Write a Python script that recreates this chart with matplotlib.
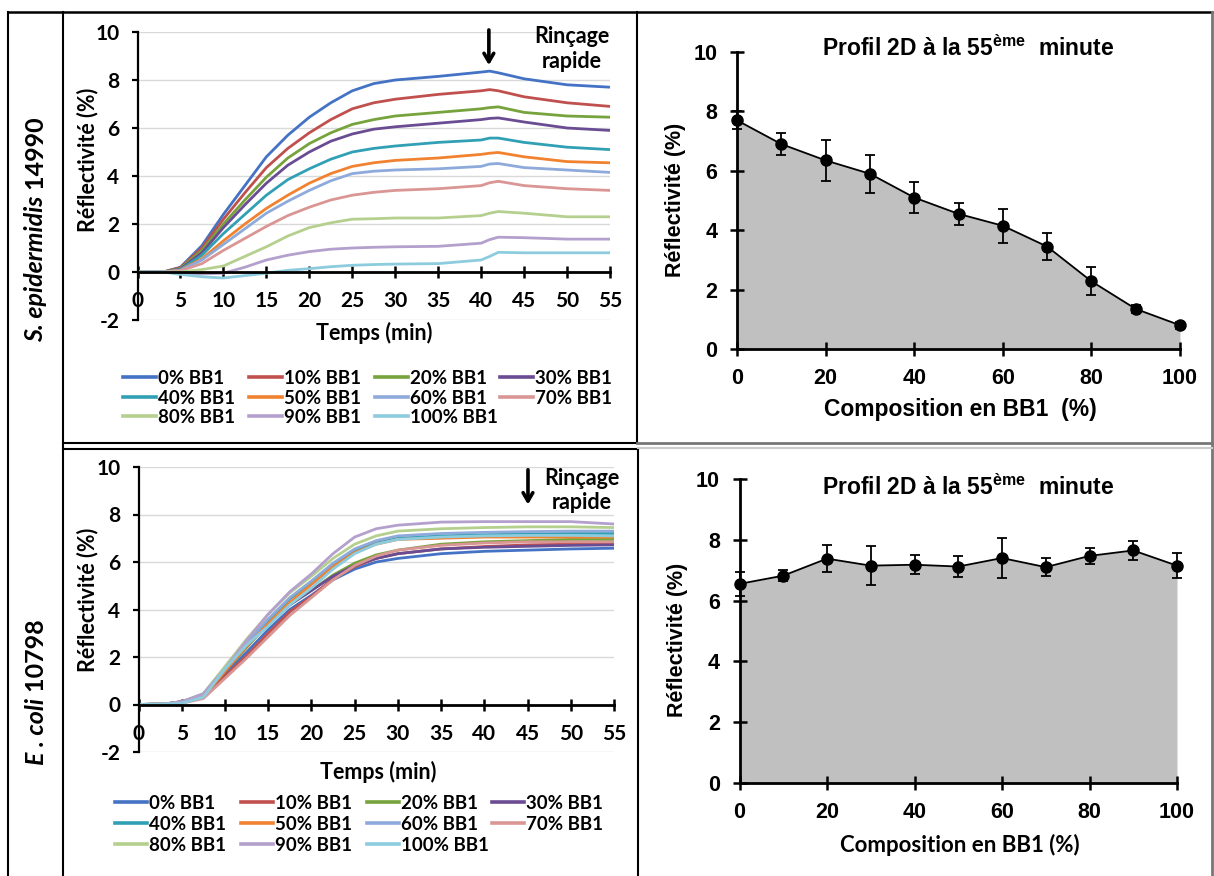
import matplotlib
matplotlib.use("Agg")
import matplotlib.pyplot as plt
from matplotlib.lines import Line2D

W, H = 1214, 876
plt.rcParams['mathtext.fontset'] = 'custom'
plt.rcParams['mathtext.rm'] = 'Liberation Sans:bold'
plt.rcParams['mathtext.bf'] = 'Liberation Sans:bold'
plt.rcParams['axes.unicode_minus'] = False

# ---------------- data ----------------
labels = ['0% BB1', '10% BB1', '20% BB1', '30% BB1', '40% BB1', '50% BB1',
          '60% BB1', '70% BB1', '80% BB1', '90% BB1', '100% BB1']
colors = ['#4472C4', '#C0504D', '#77A33C', '#6A4C93', '#31A0B4', '#F08230',
          '#8EAADB', '#D99694', '#B5D08E', '#B4A0CC', '#8DCCDE']

# S. epidermidis kinetics
t_se = [0, 3, 5, 7.5, 10, 12.5, 15, 17.5, 20, 22.5, 25, 27.5, 30, 35, 40, 41, 42, 45, 50, 55]
se_0 = [0, 0, 0.2, 1.1, 2.4, 3.6, 4.8, 5.7, 6.45, 7.05, 7.55, 7.85, 8.0, 8.15, 8.33, 8.37, 8.3, 8.05, 7.8, 7.7]
se_10 = [0, 0, 0.18, 1.0, 2.2, 3.3, 4.35, 5.15, 5.8, 6.35, 6.8, 7.05, 7.2, 7.4, 7.55, 7.6, 7.55, 7.3, 7.05, 6.9]
se_20 = [0, 0, 0.15, 0.9, 2.0, 3.0, 3.95, 4.75, 5.35, 5.8, 6.15, 6.35, 6.5, 6.65, 6.8, 6.85, 6.88, 6.65, 6.5, 6.45]
se_30 = [0, 0, 0.12, 0.8, 1.85, 2.8, 3.7, 4.45, 5.0, 5.45, 5.75, 5.95, 6.05, 6.2, 6.35, 6.4, 6.42, 6.25, 6.0, 5.9]
se_40 = [0, 0, 0.1, 0.7, 1.6, 2.4, 3.2, 3.85, 4.3, 4.7, 5.0, 5.15, 5.25, 5.4, 5.5, 5.58, 5.58, 5.4, 5.2, 5.1]
se_50 = [0, 0, 0.08, 0.55, 1.3, 2.0, 2.65, 3.2, 3.7, 4.1, 4.4, 4.55, 4.65, 4.75, 4.9, 4.95, 4.98, 4.8, 4.6, 4.55]
se_60 = [0, 0, 0.07, 0.5, 1.15, 1.8, 2.45, 2.95, 3.4, 3.8, 4.1, 4.2, 4.25, 4.3, 4.4, 4.5, 4.52, 4.35, 4.25, 4.15]
se_70 = [0, 0, 0.05, 0.35, 0.9, 1.4, 1.9, 2.35, 2.7, 3.0, 3.2, 3.32, 3.4, 3.47, 3.6, 3.72, 3.78, 3.6, 3.47, 3.4]
se_80 = [0, 0, 0.0, 0.1, 0.25, 0.65, 1.05, 1.5, 1.85, 2.05, 2.2, 2.22, 2.25, 2.25, 2.35, 2.45, 2.52, 2.45, 2.3, 2.3]
se_90 = [0, 0, -0.05, -0.08, -0.05, 0.2, 0.5, 0.7, 0.85, 0.95, 1.0, 1.03, 1.05, 1.07, 1.2, 1.35, 1.45, 1.43, 1.37, 1.37]
se_100 = [0, 0, -0.1, -0.2, -0.25, -0.15, -0.05, 0.07, 0.14, 0.22, 0.28, 0.31, 0.33, 0.35, 0.5, 0.65, 0.82, 0.8, 0.8, 0.8]

# E. coli kinetics
t_ec = [0, 3, 5, 7.5, 10, 12.5, 15, 17.5, 20, 22.5, 25, 27.5, 30, 35, 40, 45, 50, 55]
ec_0 = [0, 0.02, 0.1, 0.35, 1.3, 2.2, 3.15, 4.0, 4.6, 5.25, 5.7, 6.0, 6.15, 6.35, 6.45, 6.5, 6.55, 6.58]
ec_10 = [0, 0.02, 0.12, 0.3, 1.2, 2.05, 3.0, 3.9, 4.55, 5.3, 5.8, 6.15, 6.35, 6.55, 6.65, 6.72, 6.75, 6.78]
ec_20 = [0, 0.02, 0.1, 0.35, 1.4, 2.4, 3.4, 4.2, 4.8, 5.45, 5.95, 6.3, 6.5, 6.75, 6.85, 6.9, 6.95, 6.95]
ec_30 = [0, 0.02, 0.12, 0.4, 1.45, 2.45, 3.4, 4.2, 4.8, 5.4, 5.85, 6.15, 6.35, 6.55, 6.62, 6.66, 6.7, 6.72]
ec_40 = [0, 0.02, 0.1, 0.45, 1.55, 2.6, 3.55, 4.45, 5.15, 5.85, 6.45, 6.8, 7.0, 7.1, 7.15, 7.18, 7.2, 7.2]
ec_50 = [0, 0.02, 0.1, 0.35, 1.4, 2.45, 3.4, 4.3, 5.05, 5.8, 6.4, 6.75, 6.95, 7.0, 7.05, 7.05, 7.05, 7.05]
ec_60 = [0, 0.02, 0.1, 0.4, 1.5, 2.6, 3.6, 4.5, 5.2, 5.95, 6.55, 6.9, 7.1, 7.2, 7.25, 7.28, 7.3, 7.3]
ec_70 = [0, 0.02, 0.05, 0.25, 1.1, 1.95, 2.85, 3.75, 4.5, 5.25, 5.85, 6.25, 6.5, 6.7, 6.8, 6.85, 6.85, 6.85]
ec_80 = [0, 0.02, 0.1, 0.45, 1.6, 2.75, 3.8, 4.7, 5.4, 6.15, 6.75, 7.1, 7.3, 7.4, 7.45, 7.48, 7.48, 7.45]
ec_90 = [0, 0.02, 0.12, 0.45, 1.5, 2.7, 3.8, 4.75, 5.5, 6.35, 7.05, 7.4, 7.55, 7.68, 7.7, 7.7, 7.7, 7.6]
ec_100 = [0, 0.02, 0.05, 0.3, 1.5, 2.5, 3.3, 4.2, 4.9, 5.7, 6.35, 6.75, 6.95, 7.05, 7.1, 7.12, 7.12, 7.1]

# 2D profiles at 55 min
composition = [0, 10, 20, 30, 40, 50, 60, 70, 80, 90, 100]
se_profile = [7.7, 6.9, 6.35, 5.9, 5.1, 4.55, 4.15, 3.45, 2.28, 1.35, 0.8]
se_err = [0.3, 0.38, 0.68, 0.64, 0.52, 0.38, 0.57, 0.47, 0.47, 0.14, 0.12]
ec_profile = [6.55, 6.82, 7.38, 7.15, 7.18, 7.12, 7.4, 7.1, 7.47, 7.65, 7.15]
ec_err = [0.4, 0.19, 0.45, 0.65, 0.32, 0.35, 0.65, 0.3, 0.25, 0.31, 0.42]

x_ticks_time = [0, 5, 10, 15, 20, 25, 30, 35, 40, 45, 50, 55]
y_ticks_time = [-2, 0, 2, 4, 6, 8, 10]
x_ticks_comp = [0, 20, 40, 60, 80, 100]
y_ticks_comp = [0, 2, 4, 6, 8, 10]

se_series = [se_0, se_10, se_20, se_30, se_40, se_50, se_60, se_70, se_80, se_90, se_100]
ec_series = [ec_0, ec_10, ec_20, ec_30, ec_40, ec_50, ec_60, ec_70, ec_80, ec_90, ec_100]

# ---------------- figure ----------------
fig = plt.figure(figsize=(W / 100, H / 100), dpi=100)
fig.patch.set_facecolor('white')


def px_axes(x0, x1, ytop, ybot):
    return fig.add_axes([x0 / W, 1 - ybot / H, (x1 - x0) / W, (ybot - ytop) / H])


def fline(x0, y0, x1, y1, color='black', lw=1.5):
    fig.add_artist(Line2D([x0 / W, x1 / W], [1 - y0 / H, 1 - y1 / H],
                          transform=fig.transFigure, color=color, lw=lw))


# frames
fline(8, 12, 1212, 12, lw=1.8)
fline(8, 12, 8, 876, lw=1.5)
fline(63, 12, 63, 876, lw=1.5)
fline(637, 12, 637, 443, lw=1.5)
fline(63, 443, 637, 443, lw=1.5)
fline(63, 449, 638, 449, lw=1.5)
fline(638, 449, 638, 876, lw=1.5)
fline(1212, 12, 1212, 876, color='#777777', lw=2)
fline(637, 443, 1212, 443, color='#777777', lw=2)
fline(638, 448, 1212, 448, color='#cccccc', lw=1.5)

LF = 'Lato'
AF = 'Liberation Sans'


def kinetics(ax, t, series, arrow_x, arrow_top, arrow_tip, txt_x, txt_y):
    for y, c in zip(series, colors):
        ax.plot(t, y, color=c, lw=2.0, clip_on=False, solid_capstyle='butt')
    ax.set_xlim(0, 55)
    ax.set_ylim(-2, 10)
    ax.set_yticks(y_ticks_time)
    ax.set_xticks(x_ticks_time)
    ax.grid(axis='y', color='#d9d9d9', lw=1.0)
    ax.set_axisbelow(True)
    for s in ['top', 'right']:
        ax.spines[s].set_visible(False)
    ax.spines['bottom'].set_position(('data', 0))
    ax.spines['bottom'].set_linewidth(2)
    ax.spines['left'].set_linewidth(1.6)
    ax.tick_params(axis='x', direction='inout', length=8, width=1.8, pad=10)
    ax.tick_params(axis='y', direction='out', length=4, width=1.6, pad=9)
    for lab in ax.get_xticklabels() + ax.get_yticklabels():
        lab.set_fontfamily(LF)
        lab.set_fontweight('bold')
        lab.set_fontsize(15)
    ax.annotate('', xy=(arrow_x, arrow_tip), xytext=(arrow_x, arrow_top),
                arrowprops=dict(arrowstyle='->,head_width=0.35,head_length=0.6', lw=2.6, color='black'),
                annotation_clip=False)
    ax.text(txt_x, txt_y, 'Rinçage\nrapide', ha='center', va='center', fontfamily=LF,
            fontweight='bold', fontsize=15.5, linespacing=1.2)


# top-left
ax1 = px_axes(137.5, 610, 32, 320)
kinetics(ax1, t_se, se_series, 40.9, 10.2, 8.5, 50.6, 9.3)
fig.text(374 / W, 1 - 333 / H, 'Temps (min)', ha='center', va='center', fontfamily=LF,
         fontweight='bold', fontsize=15.5)
fig.text(88 / W, 1 - 160 / H, 'Réflectivité (%)', ha='center', va='center', rotation=90,
         fontfamily=LF, fontweight='bold', fontsize=15.5)

# bottom-left
ax2 = px_axes(138.5, 614, 467, 752)
kinetics(ax2, t_ec, ec_series, 45.05, 10.0, 8.3, 51.3, 9.0)
fig.text(378 / W, 1 - 772 / H, 'Temps (min)', ha='center', va='center', fontfamily=LF,
         fontweight='bold', fontsize=15.5)
fig.text(88 / W, 1 - 600 / H, 'Réflectivité (%)', ha='center', va='center', rotation=90,
         fontfamily=LF, fontweight='bold', fontsize=15.5)


# legends: Excel-style grid, 4 equal-width columns, row-major order
def legend(x0, y0, colw, rowh, linelen):
    for i, (lab, c) in enumerate(zip(labels, colors)):
        r, k = divmod(i, 4)
        xs = x0 + k * colw
        ys = y0 + r * rowh
        fline(xs, ys, xs + linelen, ys, color=c, lw=2.6)
        fig.text((xs + linelen + 2) / W, 1 - ys / H, lab, ha='left', va='center_baseline',
                 fontfamily=LF, fontweight='bold', fontsize=13.5)


legend(123, 377, 125.8, 19.7, 33)
legend(115, 802, 125.8, 20.8, 32)

# row labels (italic species + plain strain number)
t1 = fig.text(36 / W, 1 - 342 / H, 'S. epidermidis', rotation=90, ha='center', va='bottom',
              fontfamily=LF, fontstyle='italic', fontweight='bold', fontsize=18)
fig.add_artist(matplotlib.text.Annotation(' 14990', xy=(0.5, 1), xycoords=t1, ha='center',
                                          va='bottom', rotation=90, fontfamily=LF,
                                          fontweight='bold', fontsize=18))
t2 = fig.text(36 / W, 1 - 765 / H, 'E . coli', rotation=90, ha='center', va='bottom',
              fontfamily=LF, fontstyle='italic', fontweight='bold', fontsize=18)
fig.add_artist(matplotlib.text.Annotation(' 10798', xy=(0.5, 1), xycoords=t2, ha='center',
                                          va='bottom', rotation=90, fontfamily=LF,
                                          fontweight='bold', fontsize=18))


def profile(ax, vals, errs, title_y_px, xlabel_font, xlabel_size, xlabel_y_px,
            ylabel_x_px, ylabel_y_px, xl_text):
    ax.fill_between(composition, vals, 0, color='#c0c0c0', lw=0)
    ax.errorbar(composition, vals, yerr=errs, color='black', lw=1.3, marker='o', ms=8,
                capsize=3.5, capthick=1.3, elinewidth=1.3, clip_on=False, zorder=5)
    ax.set_xlim(0, 100)
    ax.set_ylim(0, 10)
    ax.set_xticks(x_ticks_comp)
    ax.set_yticks(y_ticks_comp)
    for s in ['top', 'right']:
        ax.spines[s].set_visible(False)
    ax.spines['bottom'].set_linewidth(2)
    ax.spines['left'].set_linewidth(2)
    ax.tick_params(axis='x', direction='inout', length=10, width=1.8, pad=9)
    ax.tick_params(axis='y', direction='inout', length=10, width=1.8, pad=9)
    for lab in ax.get_xticklabels() + ax.get_yticklabels():
        lab.set_fontfamily(AF)
        lab.set_fontweight('bold')
        lab.set_fontsize(15.5)
    fig.text(968 / W, 1 - title_y_px / H, 'Profil 2D à la 55$^{\\mathrm{ème}}$  minute',
             ha='center', va='center', fontfamily=AF, fontweight='bold', fontsize=16.5)
    fig.text(960 / W, 1 - xlabel_y_px / H, xl_text, ha='center', va='center',
             fontfamily=xlabel_font, fontweight='bold', fontsize=xlabel_size)
    fig.text(ylabel_x_px / W, 1 - ylabel_y_px / H, 'Réflectivité (%)', ha='center', va='center',
             rotation=90, fontfamily=AF, fontweight='bold', fontsize=15.5)


ax3 = px_axes(737, 1180, 52, 349)
profile(ax3, se_profile, se_err, 48, AF, 16.5, 410, 675, 200, 'Composition en BB1  (%)')
ax4 = px_axes(739.5, 1177, 479, 783)
profile(ax4, ec_profile, ec_err, 487, LF, 16, 845, 678, 640, 'Composition en BB1 (%)')

fig.savefig('out.png', dpi=100, facecolor='white')
